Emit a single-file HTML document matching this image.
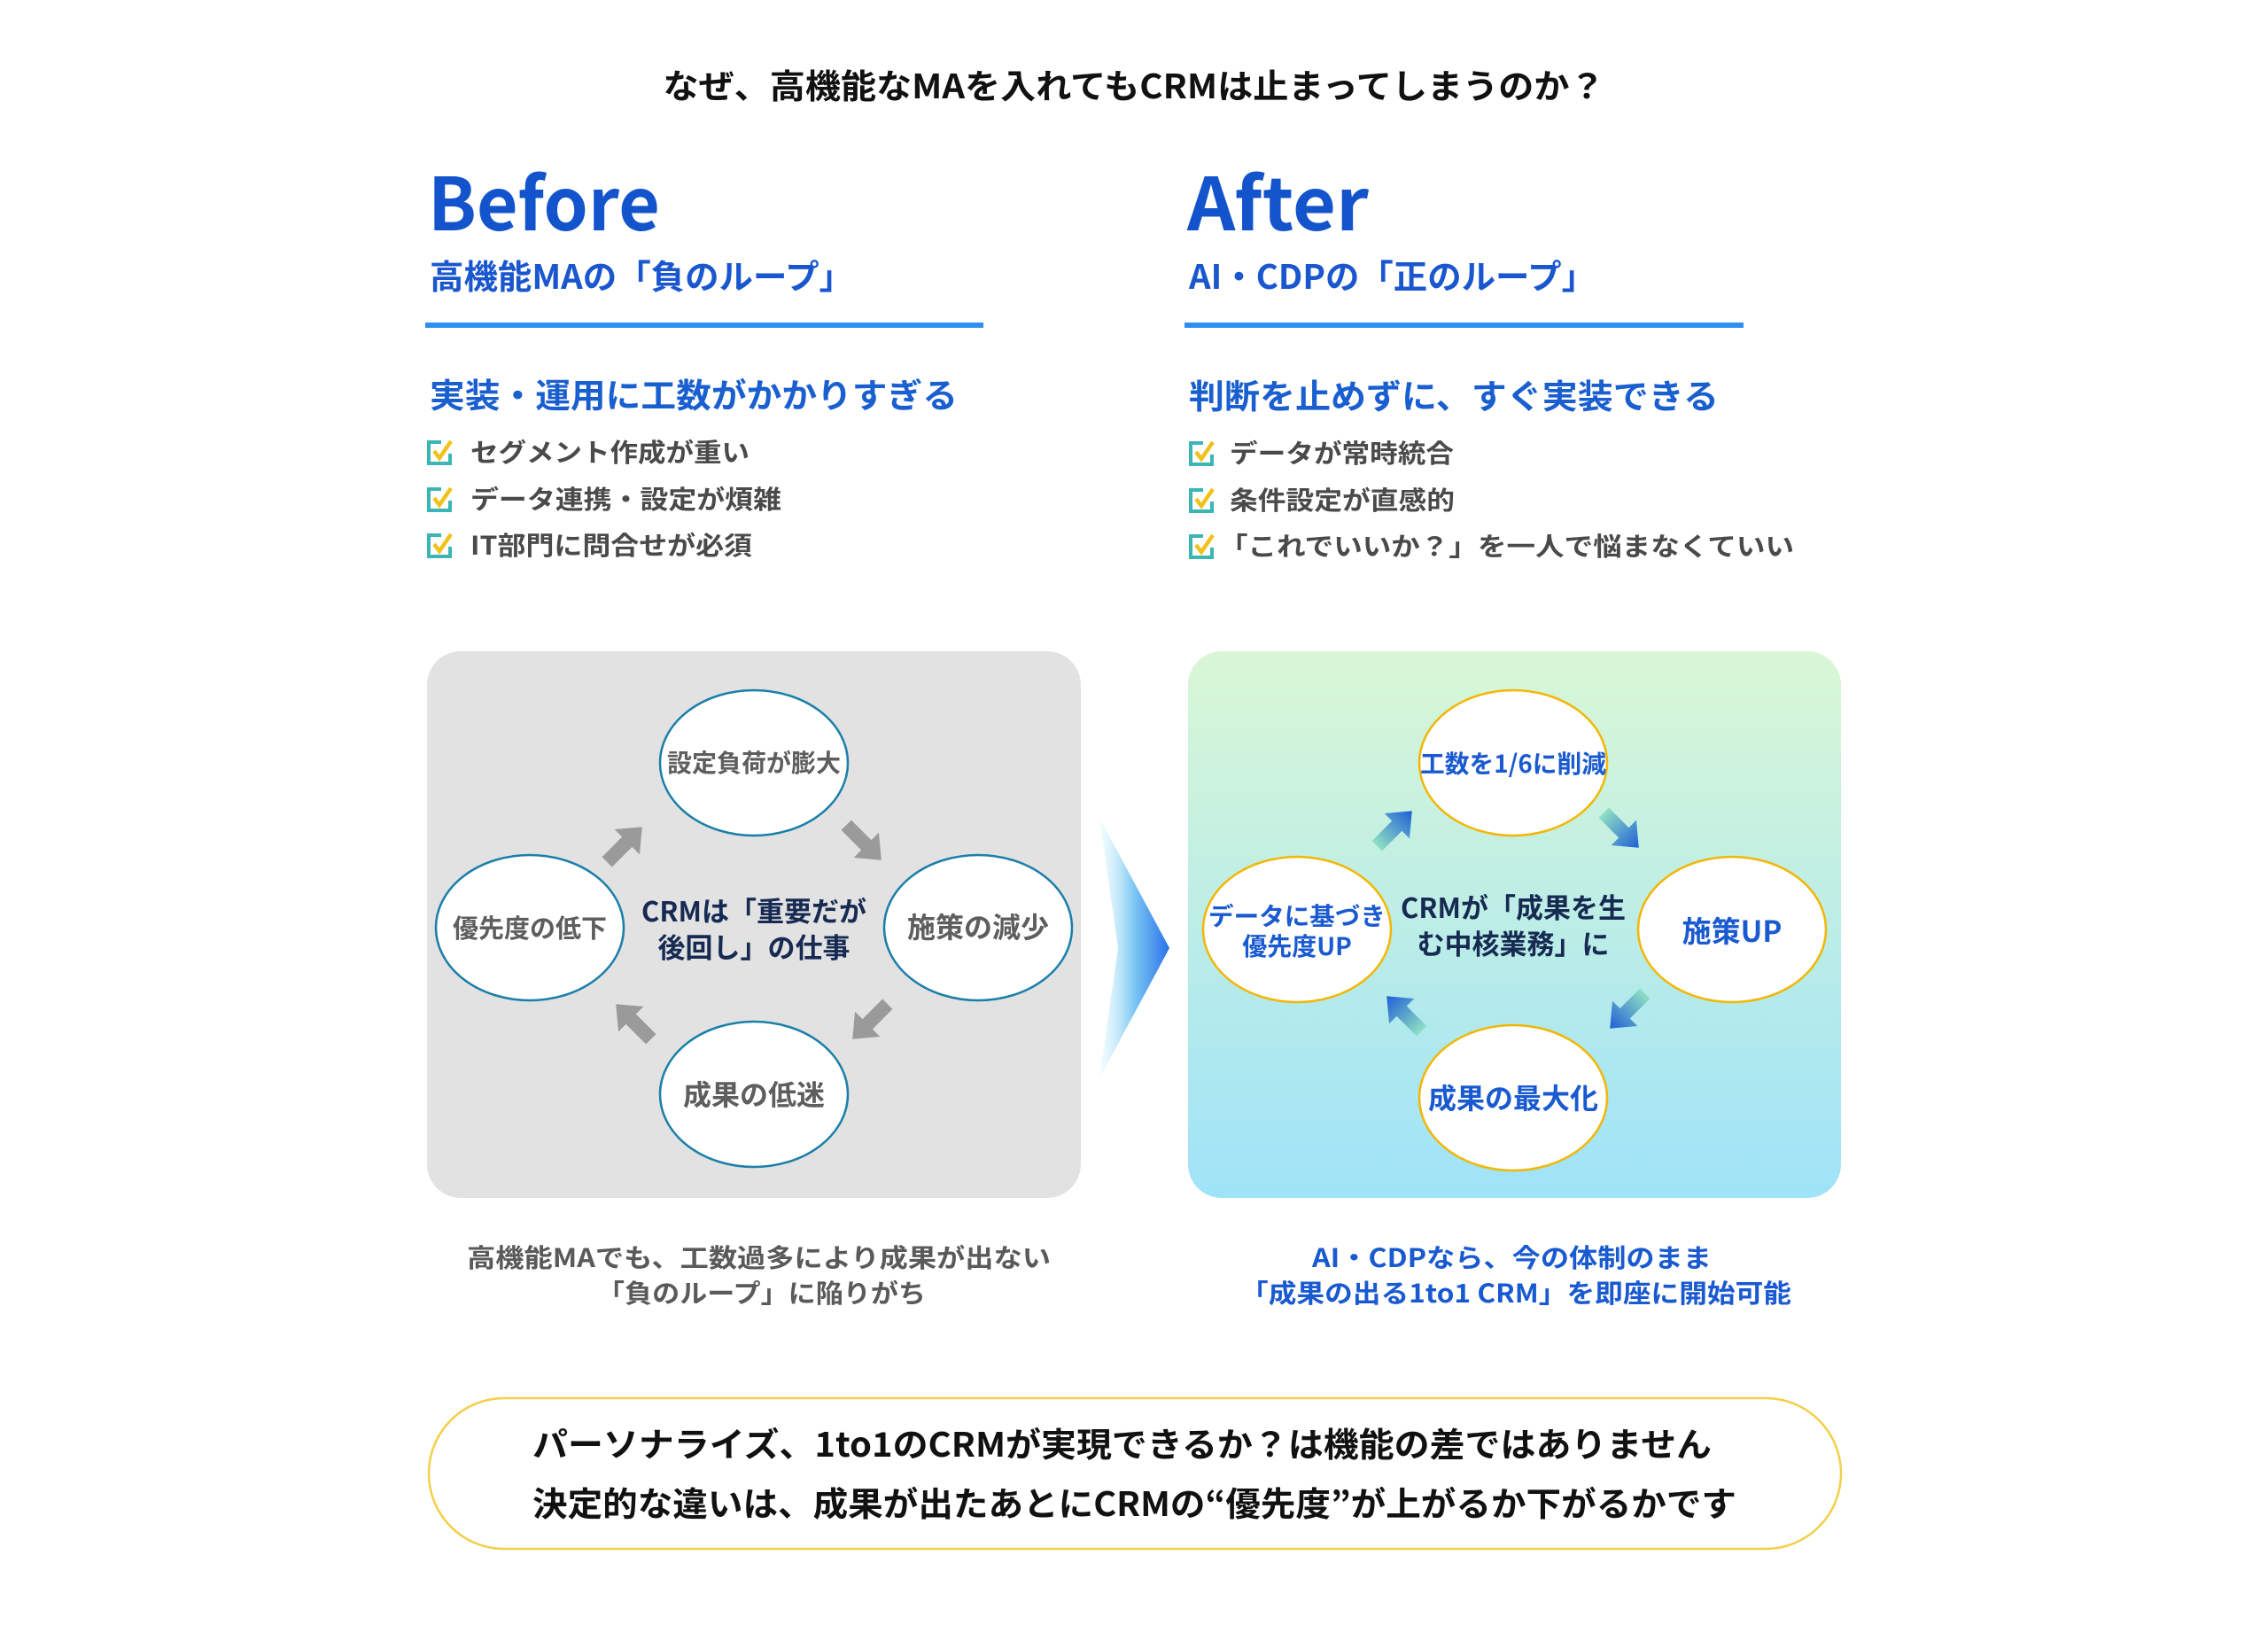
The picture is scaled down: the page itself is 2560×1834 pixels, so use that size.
<!DOCTYPE html>
<html><head><meta charset="utf-8"><style>
html,body{margin:0;padding:0;background:#fff;}
svg{display:block;}
text{font-family:"Liberation Sans","Noto Sans CJK JP",sans-serif;font-weight:bold;}
.j{font-family:"Noto Sans CJK JP","Liberation Sans",sans-serif;}
</style></head><body>
<svg width="2560" height="1834" viewBox="0 0 2560 1834" xmlns="http://www.w3.org/2000/svg">
<defs>
<linearGradient id="ag" x1="0" y1="0" x2="0" y2="1"><stop offset="0" stop-color="#d9f7d5"/><stop offset="1" stop-color="#9fe3f8"/></linearGradient>
<linearGradient id="chev" x1="0" y1="0" x2="1" y2="0"><stop offset="0" stop-color="#d8f6fb" stop-opacity="0.3"/><stop offset="0.5" stop-color="#7ac6f3"/><stop offset="1" stop-color="#2a72ea"/></linearGradient>
<linearGradient id="arg" x1="0" y1="0" x2="1" y2="0"><stop offset="0" stop-color="#8fe0c4"/><stop offset="1" stop-color="#1f5fd6"/></linearGradient>
<path id="arr" d="M-28,-8 L4,-8 L4,-20 L28,0 L4,20 L4,8 L-28,8 Z"/>
<g id="chk"><path d="M17,3 L3,3 L3,27 L27,27 L27,16" fill="none" stroke="#3bb5b5" stroke-width="4"/><path d="M9,13 L15,21 L28,2" fill="none" stroke="#f0c21e" stroke-width="4.5"/></g>
</defs>

<text class="j" x="1280" y="111" font-size="38" text-anchor="middle" fill="#111" textLength="1063" lengthAdjust="spacingAndGlyphs">なぜ、高機能なMAを入れてもCRMは止まってしまうのか？</text>

<!-- Before header -->
<text class="j" x="483" y="260" font-size="82" fill="#1354cc" textLength="262" lengthAdjust="spacingAndGlyphs">Before</text>
<text class="j" x="485" y="326" font-size="38" fill="#1a57cf" textLength="478" lengthAdjust="spacingAndGlyphs">高機能MAの「負のループ」</text>
<rect x="480" y="364" width="630" height="6" fill="#2f8ff1"/>
<text class="j" x="485" y="460" font-size="38" fill="#1a5fd0" textLength="596" lengthAdjust="spacingAndGlyphs">実装・運用に工数がかかりすぎる</text>
<use href="#chk" x="481" y="496"/><use href="#chk" x="481" y="549"/><use href="#chk" x="481" y="601"/>
<text class="j" x="531" y="521" font-size="29" fill="#4a4a4a" textLength="315" lengthAdjust="spacingAndGlyphs">セグメント作成が重い</text>
<text class="j" x="531" y="574" font-size="29" fill="#4a4a4a" textLength="351" lengthAdjust="spacingAndGlyphs">データ連携・設定が煩雑</text>
<text class="j" x="531" y="626" font-size="29" fill="#4a4a4a" textLength="318" lengthAdjust="spacingAndGlyphs">IT部門に問合せが必須</text>

<!-- After header -->
<text class="j" x="1340" y="260" font-size="82" fill="#1354cc" textLength="205" lengthAdjust="spacingAndGlyphs">After</text>
<text class="j" x="1342" y="326" font-size="38" fill="#1a57cf" textLength="459" lengthAdjust="spacingAndGlyphs">AI・CDPの「正のループ」</text>
<rect x="1337" y="364" width="631" height="6" fill="#2f8ff1"/>
<text class="j" x="1342" y="461" font-size="38" fill="#1a5fd0" textLength="598" lengthAdjust="spacingAndGlyphs">判断を止めずに、すぐ実装できる</text>
<use href="#chk" x="1341" y="497"/><use href="#chk" x="1341" y="550"/><use href="#chk" x="1341" y="602"/>
<text class="j" x="1388" y="522" font-size="29" fill="#4a4a4a" textLength="253" lengthAdjust="spacingAndGlyphs">データが常時統合</text>
<text class="j" x="1388" y="575" font-size="29" fill="#4a4a4a" textLength="254" lengthAdjust="spacingAndGlyphs">条件設定が直感的</text>
<text class="j" x="1376" y="627" font-size="29" fill="#4a4a4a" textLength="649" lengthAdjust="spacingAndGlyphs">「これでいいか？」を一人で悩まなくていい</text>

<!-- Before panel -->
<rect x="482" y="735" width="738" height="617" rx="38" fill="#e2e2e2"/>
<g fill="#9a9a9a">
<use href="#arr" transform="translate(705,953) rotate(-45)"/>
<use href="#arr" transform="translate(975,951) rotate(45)"/>
<use href="#arr" transform="translate(982,1153) rotate(135)"/>
<use href="#arr" transform="translate(715,1153) rotate(-135)"/>
</g>
<g fill="#fff" stroke="#1b7fa9" stroke-width="2.5">
<ellipse cx="851" cy="861" rx="106" ry="82"/>
<ellipse cx="598" cy="1047" rx="106" ry="82"/>
<ellipse cx="1104" cy="1047" rx="106" ry="82"/>
<ellipse cx="851" cy="1235" rx="106" ry="82"/>
</g>
<g class="j" fill="#5e5e5e" text-anchor="middle">
<text x="851" y="871" font-size="28" class="j">設定負荷が膨大</text>
<text x="598" y="1058" font-size="29" class="j">優先度の低下</text>
<text x="1104" y="1058" font-size="32" class="j">施策の減少</text>
<text x="851" y="1247" font-size="32" class="j">成果の低迷</text>
</g>
<text class="j" x="851" y="1040" font-size="31" fill="#162a52" text-anchor="middle">CRMは「重要だが</text>
<text class="j" x="851" y="1081" font-size="31" fill="#162a52" text-anchor="middle">後回し」の仕事</text>

<!-- chevron -->
<polygon points="1241,923 1320,1070 1241,1217 1262,1070" fill="url(#chev)"/>

<!-- After panel -->
<rect x="1341" y="735" width="737" height="617" rx="38" fill="url(#ag)"/>
<g fill="url(#arg)">
<use href="#arr" transform="translate(1574,935) rotate(-45)"/>
<use href="#arr" transform="translate(1830,937) rotate(45)"/>
<use href="#arr" transform="translate(1837,1141) rotate(135)"/>
<use href="#arr" transform="translate(1585,1144) rotate(-135)"/>
</g>
<g fill="#fff" stroke="#f2b705" stroke-width="2.5">
<ellipse cx="1708" cy="861" rx="106" ry="82"/>
<ellipse cx="1464" cy="1049" rx="106" ry="82"/>
<ellipse cx="1955" cy="1049" rx="106" ry="82"/>
<ellipse cx="1708" cy="1239" rx="106" ry="82"/>
</g>
<g fill="#1a5ad0" text-anchor="middle">
<text class="j" x="1708" y="872" font-size="28" textLength="210" lengthAdjust="spacingAndGlyphs">工数を1/6に削減</text>
<text class="j" x="1464" y="1044" font-size="28" textLength="200" lengthAdjust="spacingAndGlyphs">データに基づき</text>
<text class="j" x="1464" y="1078" font-size="28">優先度UP</text>
<text class="j" x="1955" y="1063" font-size="33">施策UP</text>
<text class="j" x="1708" y="1251" font-size="32">成果の最大化</text>
</g>
<text class="j" x="1708" y="1036" font-size="31" fill="#162a52" text-anchor="middle">CRMが「成果を生</text>
<text class="j" x="1708" y="1077" font-size="31" fill="#162a52" text-anchor="middle">む中核業務」に</text>

<!-- captions -->
<text class="j" x="527" y="1430" font-size="29" fill="#5a5a5a" textLength="659" lengthAdjust="spacingAndGlyphs">高機能MAでも、工数過多により成果が出ない</text>
<text class="j" x="674" y="1470" font-size="29" fill="#5a5a5a" textLength="371" lengthAdjust="spacingAndGlyphs">「負のループ」に陥りがち</text>
<text class="j" x="1481" y="1430" font-size="29" fill="#1a5ad0" textLength="451" lengthAdjust="spacingAndGlyphs">AI・CDPなら、今の体制のまま</text>
<text class="j" x="1400" y="1470" font-size="29" fill="#1a5ad0" textLength="622" lengthAdjust="spacingAndGlyphs">「成果の出る1to1 CRM」を即座に開始可能</text>

<!-- bottom box -->
<rect x="484" y="1578" width="1594" height="170" rx="85" fill="#fff" stroke="#f2d04a" stroke-width="2.5"/>
<text class="j" x="601" y="1644" font-size="38" fill="#111" textLength="1331" lengthAdjust="spacingAndGlyphs">パーソナライズ、1to1のCRMが実現できるか？は機能の差ではありません</text>
<text class="j" x="601" y="1711" font-size="38" fill="#111" textLength="1359" lengthAdjust="spacingAndGlyphs">決定的な違いは、成果が出たあとにCRMの“優先度”が上がるか下がるかです</text>
</svg>
</body></html>
